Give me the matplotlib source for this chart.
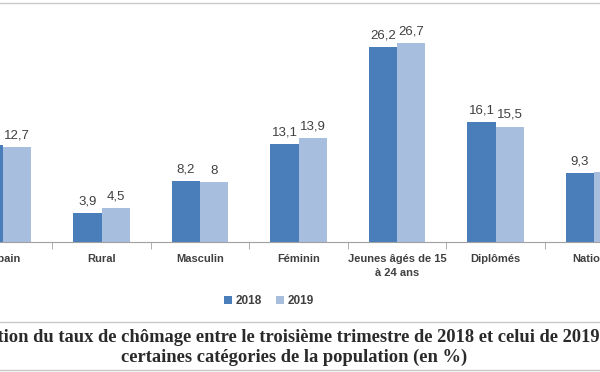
import matplotlib.pyplot as plt
from matplotlib.lines import Line2D
from matplotlib.patches import Patch
import numpy as np

CATEGORIES = ['Urbain', 'Rural', 'Masculin', 'Féminin', 'Jeunes âgés de 15\nà 24 ans', 'Diplômés', 'National']
VALUES_2018 = [13.0, 3.9, 8.2, 13.1, 26.2, 16.1, 9.3]
VALUES_2019 = [12.7, 4.5, 8.0, 13.9, 26.7, 15.5, 9.4]
SERIES = ['2018', '2019']
COLORS = ['#4a7ebb', '#a7bede']
CAPTION_1 = 'Évolution du taux de chômage entre le troisième trimestre de 2018 et celui de 2019 selon'
CAPTION_2 = 'certaines catégories de la population (en %)'

W, H = 600, 372


def fmt(v):
    if float(v).is_integer():
        return str(int(v))
    return ('%.1f' % v).replace('.', ',')


def main():
    fig = plt.figure(figsize=(W / 100, H / 100), dpi=100)
    # axes spans full width, the chart is cropped on both sides
    base = 242
    ppu = 7.45
    top = base - 30 * ppu
    ax = fig.add_axes([0, (H - base) / H, 1, (base - top) / H])
    spacing = 98.5
    ax.set_xlim(-3 / spacing, (W - 3) / spacing)
    ax.set_ylim(0, 30)

    x = np.arange(len(CATEGORIES))
    bw = 0.285
    for off, vals, col in [(-bw / 2, VALUES_2018, COLORS[0]), (bw / 2, VALUES_2019, COLORS[1])]:
        bars = ax.bar(x + off, vals, bw, color=col, edgecolor='none')
        for b, v in zip(bars, vals):
            ax.annotate(fmt(v), (b.get_x() + b.get_width() / 2, v), xytext=(0, 4),
                        textcoords='offset points', ha='center', va='bottom',
                        fontsize=9.5, color='#404040', family='Liberation Sans')

    for s in ['top', 'right', 'left']:
        ax.spines[s].set_visible(False)
    ax.spines['bottom'].set_color('#a0a0a0')
    ax.set_yticks([])
    ax.set_xticks(x)
    ax.set_xticklabels(CATEGORIES, fontsize=8, fontweight='bold', color='#404040',
                       family='Liberation Sans', linespacing=1.5)
    ax.tick_params(axis='x', which='major', length=0, pad=9)
    ax.set_xticks(x[:-1] + 0.5, minor=True)
    ax.tick_params(axis='x', which='minor', length=5, color='#a0a0a0')

    handles = [Patch(facecolor=c, edgecolor='none') for c in COLORS]
    leg = fig.legend(handles, SERIES, loc='center', bbox_to_anchor=(269 / W, 1 - 301 / H),
                     ncol=2, frameon=False, handlelength=0.7, handleheight=0.7,
                     handletextpad=0.3, columnspacing=1.2,
                     prop={'family': 'Liberation Sans', 'weight': 'bold', 'size': 8.5})
    for t in leg.get_texts():
        t.set_color('#404040')

    for yy in [3, 322, 370]:
        fig.add_artist(Line2D([0, 1], [1 - yy / H, 1 - yy / H], color='#c8c8c8', lw=1,
                              transform=fig.transFigure))

    # first caption line is cut on the left, as in the source image
    fig.text(-49 / W, 1 - 336 / H, CAPTION_1, ha='left', va='center', fontsize=13.3,
             fontweight='bold', family='Liberation Serif', color='#2a2a2a')
    fig.text(294 / W, 1 - 357 / H, CAPTION_2, ha='center', va='center', fontsize=13.3,
             fontweight='bold', family='Liberation Serif', color='#2a2a2a')

    fig.savefig('out.png', dpi=100)


if __name__ == "__main__":
    main()
